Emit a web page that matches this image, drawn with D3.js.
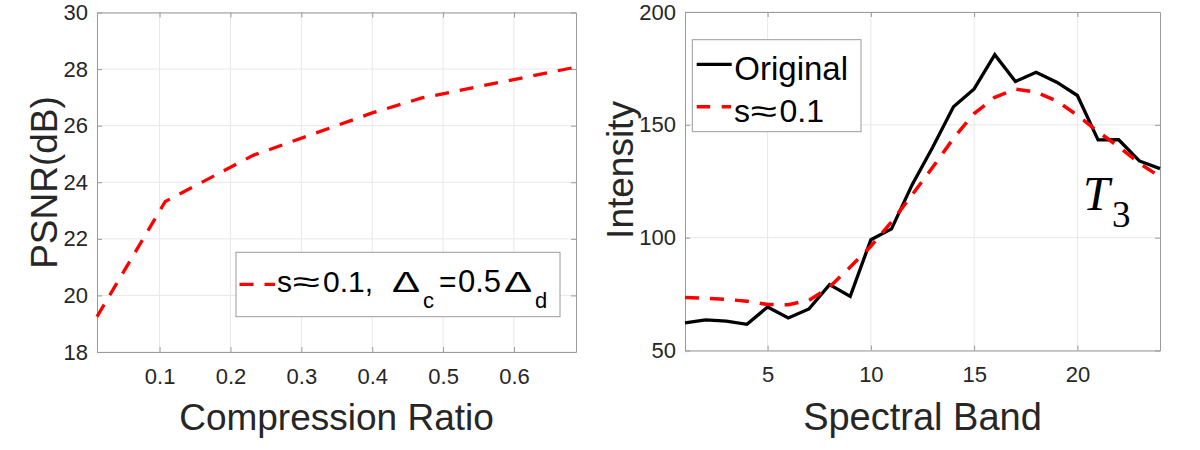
<!DOCTYPE html>
<html>
<head>
<meta charset="utf-8">
<script src="https://cdn.jsdelivr.net/npm/d3@7"></script>
<style>
  body { margin: 0; background: #fff; }
  svg text { font-family: "Liberation Sans", Arial, sans-serif; fill: #262626; }
</style>
</head>
<body>
<div id="chart"></div>
<script>
// left panel: PSNR vs compression ratio
const cratio = [0.0117, 0.108, 0.232, 0.40, 0.47, 0.6875];
const psnr = [19.25, 23.32, 24.95, 26.45, 26.98, 28.07];
const leftXTicks = [0.1, 0.2, 0.3, 0.4, 0.5, 0.6];
const leftYTicks = [18, 20, 22, 24, 26, 28, 30];

// right panel: spectrum of T3
const bands = [1, 2, 3, 4, 5, 6, 7, 8, 9, 10, 11, 12, 13, 14, 15, 16, 17, 18, 19, 20, 21, 22, 23, 24];
const original = [62.2, 63.6, 63.0, 61.6, 69.3, 64.4, 68.4, 79.2, 74.0, 99.1, 103.9, 123.5,
                  140.2, 158.0, 165.9, 181.1, 169.2, 173.3, 168.9, 163.0, 143.3, 143.4, 134.0, 130.6];
const recon = [73.5, 73.2, 72.7, 71.8, 70.4, 70.3, 72.2, 78.1, 87.0, 96.2, 107.0, 119.0,
               131.3, 144.0, 155.0, 162.2, 165.8, 164.5, 160.6, 154.2, 147.0, 140.3, 133.0, 127.0];
const rightXTicks = [5, 10, 15, 20];
const rightYTicks = [50, 100, 150, 200];

const svg = d3.select("#chart").append("svg")
    .attr("width", 1200)
    .attr("height", 450);

const axisColor = "#9a9a9a";
const gridColor = "#e8e8e8";

function panel(box, xDomain, yDomain, xTicks, yTicks, xFmt) {
    const x = d3.scaleLinear().domain(xDomain).range([box.left, box.right]);
    const y = d3.scaleLinear().domain(yDomain).range([box.bottom, box.top]);
    const g = svg.append("g");

    // grid
    g.selectAll(".gx").data(xTicks).enter().append("line")
        .attr("x1", d => x(d)).attr("x2", d => x(d))
        .attr("y1", box.top).attr("y2", box.bottom)
        .attr("stroke", gridColor).attr("stroke-width", 1);
    g.selectAll(".gy").data(yTicks).enter().append("line")
        .attr("x1", box.left).attr("x2", box.right)
        .attr("y1", d => y(d)).attr("y2", d => y(d))
        .attr("stroke", gridColor).attr("stroke-width", 1);

    // axes (inward ticks, MATLAB style)
    const styleAxis = sel => {
        sel.selectAll("path, line").attr("stroke", axisColor);
        sel.selectAll("text").attr("font-size", "22px").attr("fill", "#262626")
            .attr("font-family", "'Liberation Sans', Arial, sans-serif");
    };
    g.append("g").attr("transform", `translate(0,${box.bottom})`)
        .call(d3.axisBottom(x).tickValues(xTicks).tickFormat(xFmt)
            .tickSizeInner(-5).tickSizeOuter(0).tickPadding(16))
        .call(styleAxis);
    g.append("g").attr("transform", `translate(0,${box.top})`)
        .call(d3.axisTop(x).tickValues(xTicks).tickSizeInner(-5).tickSizeOuter(0).tickFormat(""))
        .call(styleAxis);
    g.append("g").attr("transform", `translate(${box.left},0)`)
        .call(d3.axisLeft(y).tickValues(yTicks).tickSizeInner(-5).tickSizeOuter(0).tickPadding(9))
        .call(styleAxis);
    g.append("g").attr("transform", `translate(${box.right},0)`)
        .call(d3.axisRight(y).tickValues(yTicks).tickSizeInner(-5).tickSizeOuter(0).tickFormat(""))
        .call(styleAxis);

    return { g, x, y };
}

// legend text piece; sx widens a glyph (the wide ≈ and Δ of the original)
function piece(g, t, x, y, size, sx) {
    g.append("text")
        .attr("transform", `translate(${x},${y}) scale(${sx || 1},1)`)
        .attr("font-size", size + "px")
        .style("fill", "#000")
        .text(t);
}

// ---------- left panel ----------
const L = panel({ left: 97, right: 576, top: 12.5, bottom: 352 },
    [0.0117, 0.6875], [18, 30], leftXTicks, leftYTicks, d3.format(".1f"));

L.g.append("path")
    .datum(cratio.map((c, i) => [c, psnr[i]]))
    .attr("fill", "none")
    .attr("stroke", "#ff0000")
    .attr("stroke-width", 3.3)
    .attr("stroke-dasharray", "14,11")
    .attr("d", d3.line().x(d => L.x(d[0])).y(d => L.y(d[1])));

L.g.append("text")
    .attr("x", 336.5).attr("y", 430)
    .attr("text-anchor", "middle")
    .attr("font-size", "37px")
    .text("Compression Ratio");

L.g.append("text")
    .attr("transform", "translate(57,182.5) rotate(-90)")
    .attr("text-anchor", "middle")
    .attr("font-size", "37px")
    .text("PSNR(dB)");

// legend
L.g.append("rect")
    .attr("x", 236).attr("y", 252.3).attr("width", 324).attr("height", 64.4)
    .attr("fill", "#fff").attr("stroke", axisColor).attr("stroke-width", 1);
L.g.append("line")
    .attr("x1", 239.5).attr("x2", 275).attr("y1", 284.3).attr("y2", 284.3)
    .attr("stroke", "#ff0000").attr("stroke-width", 3.3).attr("stroke-dasharray", "14,11");
piece(L.g, "s", 277, 291.7, 30);
piece(L.g, "\u2248", 292.5, 291.7, 30, 1.65);
piece(L.g, "0.1,", 323, 291.7, 30);
piece(L.g, "\u0394", 392, 291.7, 29, 1.45);
piece(L.g, "c", 423, 308.3, 22);
piece(L.g, "=", 439, 291.7, 30);
piece(L.g, "0.5", 458, 291.7, 31);
piece(L.g, "\u0394", 504, 291.7, 29, 1.45);
piece(L.g, "d", 535, 308.3, 22);

// ---------- right panel ----------
const R = panel({ left: 685, right: 1160, top: 12, bottom: 350.5 },
    [1, 24], [50, 200], rightXTicks, rightYTicks, d3.format("d"));

R.g.append("path")
    .datum(bands.map((b, i) => [b, original[i]]))
    .attr("fill", "none")
    .attr("stroke", "#000")
    .attr("stroke-width", 3.3)
    .attr("stroke-linejoin", "miter")
    .attr("d", d3.line().x(d => R.x(d[0])).y(d => R.y(d[1])));

R.g.append("path")
    .datum(bands.map((b, i) => [b, recon[i]]))
    .attr("fill", "none")
    .attr("stroke", "#ff0000")
    .attr("stroke-width", 3.5)
    .attr("stroke-dasharray", "14,11")
    .attr("d", d3.line().x(d => R.x(d[0])).y(d => R.y(d[1])));

R.g.append("text")
    .attr("x", 922.5).attr("y", 430)
    .attr("text-anchor", "middle")
    .attr("font-size", "38px")
    .text("Spectral Band");

R.g.append("text")
    .attr("transform", "translate(633,170) rotate(-90)")
    .attr("text-anchor", "middle")
    .attr("font-size", "37px")
    .text("Intensity");

// legend
R.g.append("rect")
    .attr("x", 692.3).attr("y", 39.7).attr("width", 168.7).attr("height", 92)
    .attr("fill", "#fff").attr("stroke", axisColor).attr("stroke-width", 1);
R.g.append("line")
    .attr("x1", 696.7).attr("x2", 731.7).attr("y1", 64.3).attr("y2", 64.3)
    .attr("stroke", "#000").attr("stroke-width", 3.3);
piece(R.g, "Original", 734.3, 80, 33);
R.g.append("line")
    .attr("x1", 696.7).attr("x2", 731).attr("y1", 106.7).attr("y2", 106.7)
    .attr("stroke", "#ff0000").attr("stroke-width", 3.5).attr("stroke-dasharray", "13.5,11.5");
piece(R.g, "s", 734, 121.7, 32);
piece(R.g, "\u2248", 750.5, 121.7, 32, 1.5);
piece(R.g, "0.1", 779.5, 121.7, 32);

// T3 annotation
R.g.append("text")
    .attr("x", 1083).attr("y", 210)
    .attr("font-size", "48px")
    .style("font-family", "'Liberation Serif', serif")
    .style("font-style", "italic")
    .style("fill", "#000")
    .text("T");
R.g.append("text")
    .attr("x", 1112).attr("y", 226.5)
    .attr("font-size", "37px")
    .style("font-family", "'Liberation Serif', serif")
    .style("fill", "#000")
    .text("3");
</script>
</body>
</html>
